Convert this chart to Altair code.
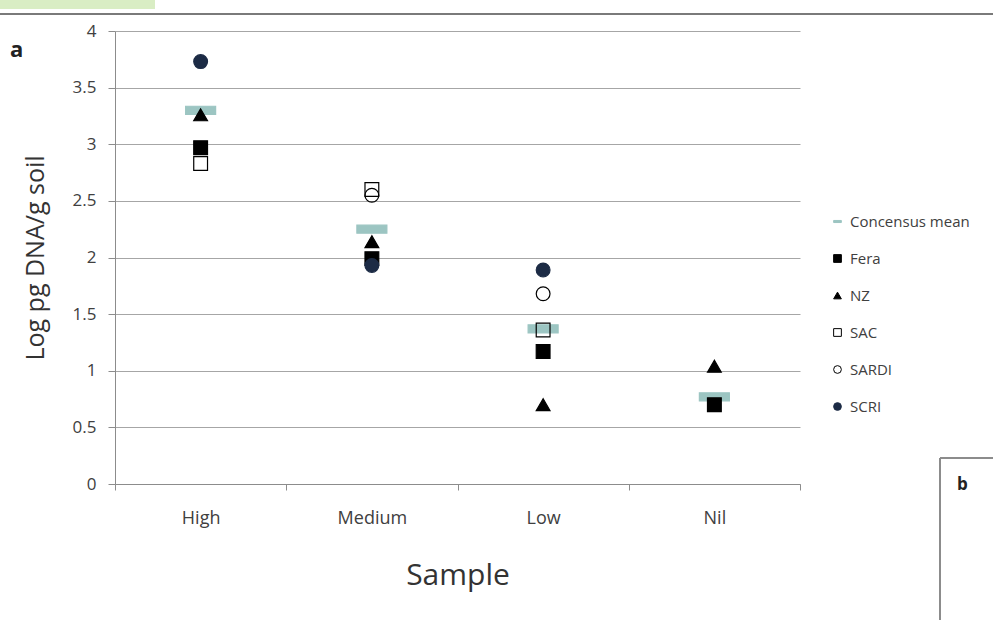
import altair as alt
import pandas as pd

categories = ["High", "Medium", "Low", "Nil"]
series = ["Concensus mean", "Fera", "NZ", "SAC", "SARDI", "SCRI"]
mean_vals = [3.30, 2.25, 1.37, 0.77]
fera_vals = [2.97, 1.99, 1.17, 0.70]
nz_vals = [3.26, 2.14, 0.70, 1.04]
sac_vals = [2.83, 2.60, 1.36, None]
sardi_vals = [None, 2.55, 1.68, None]
scri_vals = [3.73, 1.93, 1.89, None]

all_vals = [mean_vals, fera_vals, nz_vals, sac_vals, sardi_vals, scri_vals]
rows = []
for s, vals in zip(series, all_vals):
    for c, v in zip(categories, vals):
        if v is not None:
            rows.append({"Sample": c, "Series": s, "Value": v})
df = pd.DataFrame(rows)

shape_range = ["M-1,-0.27H1V0.27H-1Z", "square", "triangle-up", "square", "circle", "circle"]
fill_range = ["#9cc5c2", "#000000", "#000000", "transparent", "transparent", "#1c2b45"]
stroke_range = ["#9cc5c2", "#000000", "#000000", "#000000", "#000000", "#1c2b45"]

W, H = 685, 453
font = "Open Sans"

points = alt.Chart(df).mark_point(opacity=1, strokeWidth=1.2).encode(
    x=alt.X("Sample:N", sort=categories, title="Sample",
            scale=alt.Scale(paddingInner=0, paddingOuter=0),
            axis=alt.Axis(labelAngle=0, tickBand="extent", tickSize=6, domainColor="#8c8c8c",
                          tickColor="#8c8c8c", labelPadding=19, labelFontSize=18, labelColor="#404040",
                          labelFont=font, titleFont=font, titleFontSize=30, titleFontWeight="normal",
                          titleColor="#333333", titlePadding=33, grid=False)),
    y=alt.Y("Value:Q", title="Log pg DNA/g soil",
            scale=alt.Scale(domain=[0, 4], nice=False),
            axis=alt.Axis(values=[0, 0.5, 1, 1.5, 2, 2.5, 3, 3.5, 4], format=".1~f", tickSize=7,
                          tickColor="#8c8c8c", domainColor="#8c8c8c", gridColor="#a6a6a6",
                          labelPadding=12, labelFontSize=17, labelColor="#404040", labelFont=font,
                          titleFont=font, titleFontSize=25, titleFontWeight="normal",
                          titleColor="#333333", titlePadding=24)),
    shape=alt.Shape("Series:N", sort=series, scale=alt.Scale(domain=series, range=shape_range),
                    legend=alt.Legend(title=None, orient="none", legendX=715, legendY=183,
                                      symbolSize=60, rowPadding=21, labelFont=font,
                                      labelFontSize=15, labelColor="#404040", symbolStrokeWidth=1,
                                      labelOffset=5)),
    fill=alt.Fill("Series:N", sort=series, scale=alt.Scale(domain=series, range=fill_range)),
    stroke=alt.Stroke("Series:N", sort=series, scale=alt.Scale(domain=series, range=stroke_range)),
    size=alt.condition(alt.datum.Series == "Concensus mean", alt.value(900), alt.value(190)),
)

label_a = alt.Chart(pd.DataFrame({"t": ["a"]})).mark_text(
    font=font, fontSize=22, fontWeight="bold", align="left", color="#222222"
).encode(text="t:N", x=alt.value(-105), y=alt.value(19))

label_b = alt.Chart(pd.DataFrame({"t": ["b"]})).mark_text(
    font=font, fontSize=17, fontWeight="bold", align="left", color="#222222"
).encode(text="t:N", x=alt.value(842), y=alt.value(454))

top_line = alt.Chart(pd.DataFrame({"t": [0]})).mark_rule(color="#7a7a7a", strokeWidth=2).encode(
    x=alt.value(-115), x2=alt.value(878), y=alt.value(-17))
top_bar = alt.Chart(pd.DataFrame({"t": [0]})).mark_rect(color="#d9edc4").encode(
    x=alt.value(-115), x2=alt.value(40), y=alt.value(-31), y2=alt.value(-22))
b_v = alt.Chart(pd.DataFrame({"t": [0]})).mark_rule(color="#8c8c8c", strokeWidth=2).encode(
    x=alt.value(825), y=alt.value(427), y2=alt.value(589))
b_h = alt.Chart(pd.DataFrame({"t": [0]})).mark_rule(color="#8c8c8c", strokeWidth=2).encode(
    x=alt.value(825), x2=alt.value(878), y=alt.value(427))

chart = alt.layer(top_bar, top_line, points, label_a, label_b, b_v, b_h).properties(
    width=W, height=H,
    autosize=alt.AutoSizeParams(type="none"),
    padding={"left": 115, "top": 31, "right": 193, "bottom": 136},
    background="white",
).configure_view(stroke=None)

chart.save("out.html", embed_options={"renderer": "svg", "actions": False})
